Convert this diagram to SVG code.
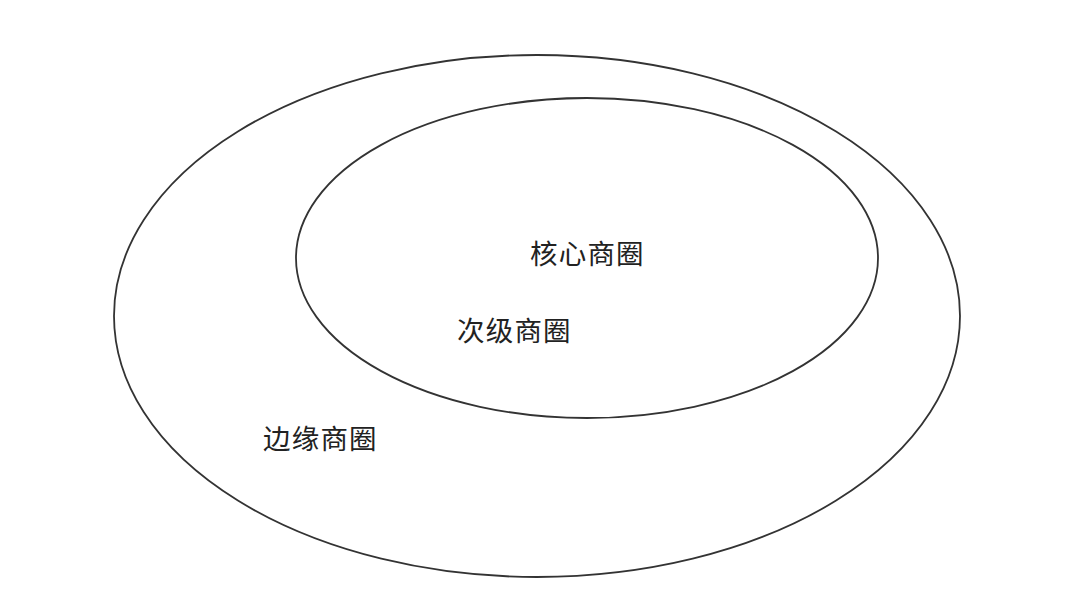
<svg xmlns="http://www.w3.org/2000/svg" width="1080" height="612" viewBox="0 0 1080 612">
<style>
.ring{fill:none;stroke:#333;stroke-width:1.8}
.lbl{font-family:"Noto Sans CJK SC","Noto Sans CJK JP",sans-serif;font-size:27.5px;letter-spacing:1.2px;fill:#222}
</style>
<rect width="1080" height="612" fill="#fff"/>
<g id="outer">
<ellipse class="ring" cx="537" cy="316" rx="423" ry="261"/>
<text class="lbl" x="263" y="449">边缘商圈</text>
</g>
<g id="middle">
<ellipse class="ring" cx="587" cy="258" rx="291" ry="160"/>
<text class="lbl" x="457" y="341">次级商圈</text>
</g>
<g id="core">
<text class="lbl" x="530" y="264">核心商圈</text>
</g>
<g id="connectors"></g>
</svg>
